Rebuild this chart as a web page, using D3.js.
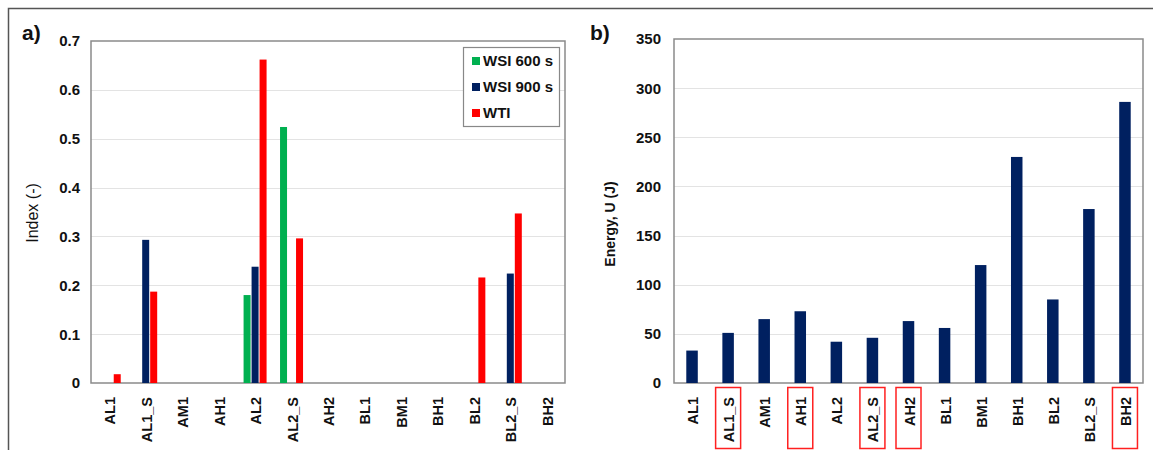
<!DOCTYPE html>
<html lang="en">
<head>
    <meta charset="UTF-8">
    <title>Index and energy</title>
    <script src="https://d3js.org/d3.v7.min.js"></script>
    <style>
        body { margin: 0; background: #fff; font-family: "Liberation Sans", Arial, sans-serif; }
        svg text { fill: #111; }
    </style>
</head>
<body>
    <div id="chart"></div>
    <script>
        const categories = ["AL1", "AL1_S", "AM1", "AH1", "AL2", "AL2_S", "AH2", "BL1", "BM1", "BH1", "BL2", "BL2_S", "BH2"];
        const seriesNames = ["WSI 600 s", "WSI 900 s", "WTI"];
        const wsi600 = [0, 0, 0, 0, 0.180, 0.524, 0, 0, 0, 0, 0, 0, 0];
        const wsi900 = [0, 0.293, 0, 0, 0.238, 0, 0, 0, 0, 0, 0, 0.224, 0];
        const wti = [0.018, 0.187, 0, 0, 0.662, 0.296, 0, 0, 0, 0, 0.216, 0.347, 0];
        const energy = [33, 51, 65, 73, 42, 46, 63, 56, 120, 230, 85, 177, 286];
        const highlighted = ["AL1_S", "AH1", "AL2_S", "AH2", "BH2"];
        const indexTicks = [0, 0.1, 0.2, 0.3, 0.4, 0.5, 0.6, 0.7];
        const energyTicks = [0, 50, 100, 150, 200, 250, 300, 350];

        const colors = ["#00b050", "#002060", "#ff0000"];
        const width = 1153, height = 450;

        const svg = d3.select("#chart").append("svg")
            .attr("width", width)
            .attr("height", height);

        // outer frame (top and left)
        svg.append("path")
            .attr("d", "M8.5,450 V8.5 H1153")
            .attr("fill", "none")
            .attr("stroke", "#555")
            .attr("stroke-width", 1.5);

        function drawFrame(g, x, y, ticks, fmt, tickRight) {
            g.append("g").selectAll("line")
                .data(ticks.slice(1, -1))
                .enter().append("line")
                .attr("x1", x.range()[0]).attr("x2", x.range()[1])
                .attr("y1", d => Math.round(y(d)) + 0.5).attr("y2", d => Math.round(y(d)) + 0.5)
                .attr("stroke", "#e3e3e3")
                .attr("stroke-width", 1);

            g.append("rect")
                .attr("x", x.range()[0]).attr("y", y.range()[1])
                .attr("width", x.range()[1] - x.range()[0])
                .attr("height", y.range()[0] - y.range()[1])
                .attr("fill", "none")
                .attr("stroke", "#8a8a8a")
                .attr("stroke-width", 1.5);

            g.append("g").selectAll("text")
                .data(ticks)
                .enter().append("text")
                .attr("x", tickRight)
                .attr("y", d => y(d))
                .attr("dy", "0.36em")
                .attr("text-anchor", "end")
                .attr("font-size", 15)
                .attr("font-weight", "bold")
                .text(fmt);
        }

        function drawXLabels(g, x, y) {
            g.append("g").selectAll("text")
                .data(categories)
                .enter().append("text")
                .attr("transform", d => `translate(${x(d) + x.bandwidth() / 2 + 6},${y.range()[0] + 14}) rotate(-90)`)
                .attr("text-anchor", "end")
                .attr("font-size", 14.5)
                .attr("font-weight", "bold")
                .text(d => d);
        }

        // ---- panel a ----
        const ga = svg.append("g");
        const xa = d3.scaleBand().domain(categories).range([91, 565]);
        const ya = d3.scaleLinear().domain([0, 0.7]).range([383, 41]);
        drawFrame(ga, xa, ya, indexTicks, d => d === 0 ? "0" : d3.format(".1f")(d), 80);

        const seriesData = [wsi600, wsi900, wti];
        const barW = 7, barStep = 8;
        seriesData.forEach((vals, i) => {
            ga.append("g").selectAll("rect")
                .data(vals.map((v, j) => ({ cat: categories[j], v })).filter(d => d.v > 0))
                .enter().append("rect")
                .attr("x", d => xa(d.cat) + xa.bandwidth() / 2 + (i - 1) * barStep - barW / 2)
                .attr("y", d => ya(d.v))
                .attr("width", barW)
                .attr("height", d => ya(0) - ya(d.v))
                .attr("fill", colors[i]);
        });
        drawXLabels(ga, xa, ya);

        ga.append("text")
            .attr("transform", "translate(38,213) rotate(-90)")
            .attr("text-anchor", "middle")
            .attr("font-size", 16)
            .text("Index (-)");

        ga.append("text")
            .attr("x", 22).attr("y", 40)
            .attr("font-size", 21)
            .attr("font-weight", "bold")
            .text("a)");

        // legend
        const legend = ga.append("g");
        legend.append("rect")
            .attr("x", 463.5).attr("y", 47.5)
            .attr("width", 96).attr("height", 79)
            .attr("fill", "#fff")
            .attr("stroke", "#888")
            .attr("stroke-width", 1.2);
        seriesNames.forEach((name, i) => {
            const cy = 61 + i * 26;
            legend.append("rect")
                .attr("x", 472).attr("y", cy - 4)
                .attr("width", 8).attr("height", 8)
                .attr("fill", colors[i]);
            legend.append("text")
                .attr("x", 483).attr("y", cy)
                .attr("dy", "0.36em")
                .attr("font-size", 15)
                .attr("font-weight", "bold")
                .text(name);
        });

        // ---- panel b ----
        const gb = svg.append("g");
        const xb = d3.scaleBand().domain(categories).range([674, 1143]);
        const yb = d3.scaleLinear().domain([0, 350]).range([383, 39]);
        drawFrame(gb, xb, yb, energyTicks, d => d, 661);

        const barWb = 11.5;
        gb.append("g").selectAll("rect")
            .data(energy.map((v, j) => ({ cat: categories[j], v })))
            .enter().append("rect")
            .attr("x", d => xb(d.cat) + xb.bandwidth() / 2 - barWb / 2)
            .attr("y", d => yb(d.v))
            .attr("width", barWb)
            .attr("height", d => yb(0) - yb(d.v))
            .attr("fill", colors[1]);
        drawXLabels(gb, xb, yb);

        gb.append("g").selectAll("rect")
            .data(highlighted)
            .enter().append("rect")
            .attr("x", d => xb(d) + xb.bandwidth() / 2 - 12.5)
            .attr("y", 387.5)
            .attr("width", 25)
            .attr("height", 61)
            .attr("fill", "none")
            .attr("stroke", "#ff2020")
            .attr("stroke-width", 1.5);

        gb.append("text")
            .attr("transform", "translate(615,224) rotate(-90)")
            .attr("text-anchor", "middle")
            .attr("font-size", 14)
            .attr("font-weight", "bold")
            .text("Energy, U (J)");

        gb.append("text")
            .attr("x", 590).attr("y", 40)
            .attr("font-size", 21)
            .attr("font-weight", "bold")
            .text("b)");
    </script>
</body>
</html>
